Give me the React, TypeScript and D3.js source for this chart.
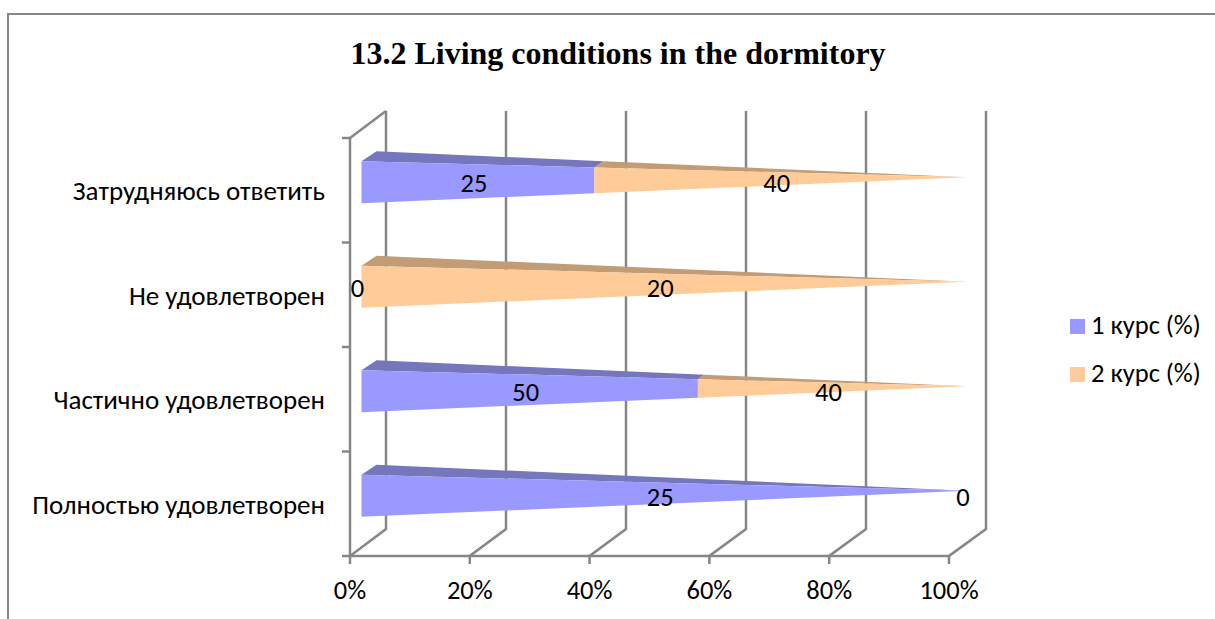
import React from "react";
import * as d3 from "d3";

const title = "13.2 Living conditions in the dormitory";
const categories = ["Затрудняюсь ответить", "Не удовлетворен", "Частично удовлетворен", "Полностью удовлетворен"];
const course1 = [25, 0, 50, 25];
const course2 = [40, 20, 40, 0];
const seriesNames = ["1 курс (%)", "2 курс (%)"];
const tickValues = [0, 0.2, 0.4, 0.6, 0.8, 1];

const frontColors = ["#9999FF", "#FFCC99"];
const topColors = ["#7676BD", "#C29C75"];
const AXIS = "#868686";
const FONT = "Carlito, Lato, 'Open Sans', sans-serif";
const FS = 26.5;

const W = 1215, H = 619;
const xFront = d3.scaleLinear().domain([0, 1]).range([350, 949]);
const xBack = d3.scaleLinear().domain([0, 1]).range([386, 986]);
const xBar = d3.scaleLinear().domain([0, 1]).range([361.5, 967]);
const yBand = d3.scaleBand<number>().domain([0, 1, 2, 3]).range([138, 556]);
const floorFront = 556, floorBack = 529, topFront = 138, topBack = 111;
const halfH = 21, tipDy = -5, depthX = 15, depthY = -10;

export default function App() {
  const pct = d3.format(".0%");
  const line = d3.line<[number, number]>();
  const poly = (p: [number, number][]) => line(p)! + "Z";
  return (
    <svg width={W} height={H} style={{ position: "absolute", left: 0, top: 0, display: "block" }}>
      <rect width={W} height={H} fill="#fff" />
      <path d={`M8,619V14H${W}`} fill="none" stroke="#868686" strokeWidth={2} />
      <text x={618} y={64} textAnchor="middle" fontFamily="'Liberation Serif', serif" fontWeight="bold" fontSize={32} fill="#000">{title}</text>

      {/* walls and floor */}
      <g stroke={AXIS} strokeWidth={2.5} fill="none">
        <path d={`M${xFront(0)},${topFront}L${xFront(0)},${floorFront}L${xFront(1)},${floorFront}`} />
        <path d={`M${xFront(0)},${topFront}L${xBack(0)},${topBack}`} />
        {tickValues.map((t) => (
          <path key={t} d={`M${xFront(t)},${floorFront + 8}V${floorFront}L${xBack(t)},${floorBack}V${topBack}`} />
        ))}
        {categories.map((_, i) => (
          <path key={i} d={`M${xFront(0) - 8},${yBand(i)!}H${xFront(0)}`} />
        ))}
        <path d={`M${xFront(0) - 8},${floorFront}H${xFront(0)}`} />
      </g>

      {/* pyramids */}
      {categories.map((cat, i) => {
        const cy = yBand(i)! + yBand.bandwidth() / 2 - 8;
        const total = course1[i] + course2[i];
        const x0 = xBar(0), x1 = xBar(1);
        const tipY = cy + tipDy;
        const topAt = (f: number): [number, number] => [xBar(f), cy - halfH + f * (tipY - cy + halfH)];
        const botAt = (f: number): [number, number] => [xBar(f), cy + halfH + f * (tipY - cy - halfH)];
        const backAt = (f: number): [number, number] => {
          const bx = x0 + depthX, by = cy - halfH + depthY;
          return [bx + f * (x1 - bx), by + f * (tipY - by)];
        };
        const vals = [course1[i], course2[i]];
        let acc = 0;
        return (
          <g key={cat}>
            {vals.map((v, s) => {
              const a = acc / total, b = (acc + v) / total;
              acc += v;
              return (
                <g key={s}>
                  {v > 0 && (
                    <>
                      <path d={poly([topAt(a), backAt(a), backAt(b), topAt(b)])} fill={topColors[s]} />
                      <path d={poly([topAt(a), topAt(b), botAt(b), botAt(a)])} fill={frontColors[s]} />
                    </>
                  )}
                </g>
              );
            })}
            {vals.map((v, s) => {
              const a = s === 0 ? 0 : vals[0] / total;
              const b = s === 0 ? vals[0] / total : 1;
              return (
                <text key={s} x={xBar((a + b) / 2) - 4} y={cy + 10} textAnchor="middle" fontFamily={FONT} fontSize={FS} fill="#000">{v}</text>
              );
            })}
            <text x={325} y={cy + 18} textAnchor="end" fontFamily={FONT} fontSize={27} fill="#000">{cat}</text>
          </g>
        );
      })}

      {tickValues.map((t) => (
        <text key={t} x={xFront(t)} y={599} textAnchor="middle" fontFamily={FONT} fontSize={FS} fill="#000">{pct(t)}</text>
      ))}

      {seriesNames.map((s, i) => (
        <g key={s}>
          <rect x={1070} y={319 + i * 48} width={15} height={15} fill={frontColors[i]} />
          <text x={1091} y={334 + i * 48} fontFamily={FONT} fontSize={FS} fill="#000">{s}</text>
        </g>
      ))}
    </svg>
  );
}
